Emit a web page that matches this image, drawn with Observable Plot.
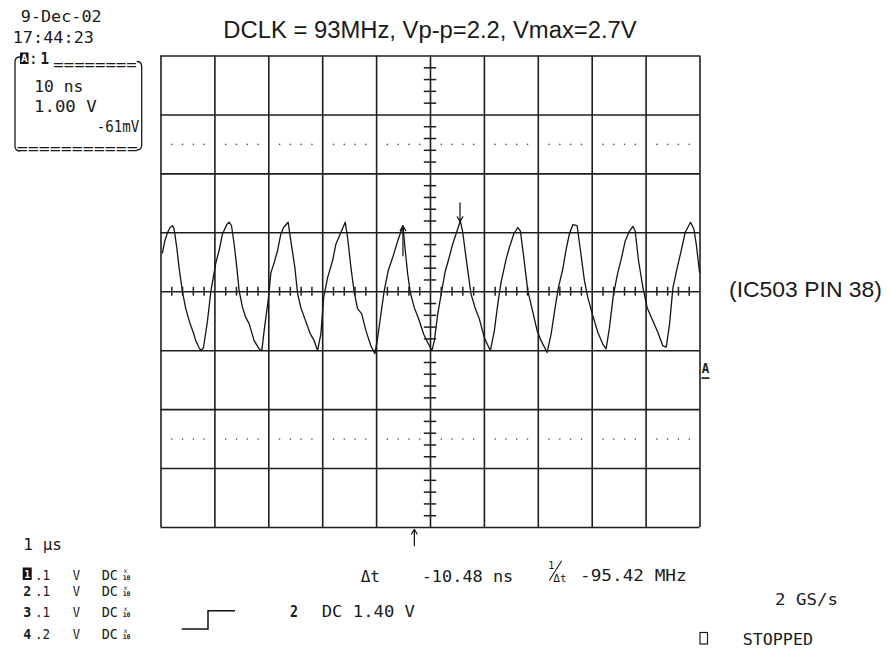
<!DOCTYPE html>
<html>
<head>
<meta charset="utf-8">
<script src="https://cdn.jsdelivr.net/npm/d3@7"></script>
<script src="https://cdn.jsdelivr.net/npm/@observablehq/plot@0.6"></script>
<style>
  html, body { margin: 0; padding: 0; background: #fff; }
  #wrap { position: relative; width: 891px; height: 648px; overflow: hidden; background: #fff; }
  #wrap > svg { position: absolute; left: 0; top: 0; }
  #overlay { position: absolute; left: 0; top: 0; pointer-events: none; }
  .m { font-family: "DejaVu Sans Mono", monospace; fill: #1a1a1a; }
  .s { font-family: "Liberation Sans", Arial, sans-serif; fill: #1a1a1a; }
</style>
</head>
<body>
<div id="wrap"></div>
<script>
// ---- Data ----
// time in ns (10 ns/div), voltage in V (1.00 V/div), screen centre = 0
const timeDivs = [-50, -40, -30, -20, -10, 0, 10, 20, 30, 40, 50];
const voltDivs = [-4, -3, -2, -1, 0, 1, 2, 3, 4];
const dottedLevels = [2.5, -2.5];

const waveT = [-49.73,-49.30,-48.80,-48.32,-47.87,-47.58,-47.07,-46.65,-46.02,-45.40,
  -44.61,-43.97,-43.55,-42.93,-42.62,-42.12,-41.37,-40.76,-39.83,-39.22,
  -38.59,-37.79,-37.36,-36.92,-36.43,-35.93,-35.51,-34.87,-34.26,-33.65,
  -32.72,-31.79,-31.29,-30.86,-30.12,-29.93,-29.62,-29.01,-28.37,-27.76,
  -27.26,-26.41,-25.91,-25.16,-24.66,-24.05,-23.31,-22.32,-21.58,-20.95,
  -20.33,-19.83,-19.09,-18.16,-17.55,-16.75,-15.82,-15.38,-14.76,-14.15,
  -13.52,-12.78,-11.98,-11.05,-10.31,-9.80,-9.19,-8.58,-7.84,-7.02,
  -6.09,-5.11,-4.74,-4.23,-3.75,-3.01,-2.27,-1.26,-0.52,0.28,
  0.71,1.34,2.08,2.69,3.31,4.12,4.74,5.53,5.98,6.59,
  7.52,8.26,9.06,9.99,11.10,11.85,12.48,13.09,14.02,14.63,
  15.45,16.19,16.68,17.31,18.05,18.79,19.78,20.52,21.63,22.38,
  23.12,23.73,24.55,25.16,25.77,26.41,27.20,27.82,28.56,29.19,
  30.12,31.05,31.98,32.59,33.20,33.95,34.76,35.38,36.12,36.92,
  37.55,37.98,38.59,39.41,40.20,41.08,42.19,43.12,43.73,44.35,
  44.98,45.78,46.52,47.26,48.25,48.88,49.30,49.92];
const waveV = [0.66,0.86,1.00,1.09,1.12,1.07,0.75,0.41,0.00,-0.29,
  -0.54,-0.70,-0.83,-0.95,-1.00,-0.95,-0.49,0.00,0.49,0.70,
  0.98,1.14,1.18,1.12,0.81,0.41,0.02,-0.27,-0.44,-0.54,
  -0.83,-0.97,-1.00,-0.66,-0.15,0.02,0.32,0.49,0.70,0.98,
  1.09,1.18,0.86,0.41,-0.03,-0.27,-0.46,-0.71,-0.83,-1.00,
  -0.71,-0.10,0.24,0.53,0.81,0.98,1.18,0.92,0.41,-0.01,
  -0.29,-0.37,-0.66,-0.92,-1.05,-0.78,-0.37,0.02,0.36,0.58,
  0.86,1.12,0.75,0.30,-0.01,-0.27,-0.44,-0.72,-0.86,-1.00,
  -0.83,-0.38,0.01,0.33,0.53,0.81,0.98,1.20,1.01,0.58,
  -0.04,-0.27,-0.46,-0.78,-1.00,-0.66,-0.21,0.16,0.55,0.75,
  0.98,1.09,1.03,0.58,0.02,-0.27,-0.66,-0.83,-1.03,-0.72,
  -0.27,0.07,0.39,0.72,0.98,1.14,1.12,0.70,0.19,-0.10,
  -0.41,-0.69,-0.89,-0.97,-0.61,-0.04,0.33,0.55,0.86,1.03,
  1.11,1.03,0.53,0.07,-0.27,-0.46,-0.69,-0.92,-0.94,-0.55,
  0.07,0.41,0.70,1.01,1.18,1.06,0.81,0.33];

// cursor markers (time ns, from V, to V)
const cursorT = [-5.11, 5.48];
const cursorFrom = [0.61, 1.51];
const cursorTo = [1.12, 1.19];
// trigger position
const triggerT = [-3.0];

// channel settings rows
const chanLabels = ["1", "2", "3", "4"];
const chanScales = [".1", ".1", ".1", ".2"];

// ---- Derived tables ----
const wave = waveT.map((t, i) => ({t, v: waveV[i]})).filter(d => d.v !== undefined);
const minorT = d3.range(-50, 50.001, 2).map(d => +d.toFixed(2)).filter(d => Math.abs(d % 10) > 1e-6);
const minorV = d3.range(-4, 4.001, 0.2).map(d => +d.toFixed(2)).filter(d => Math.abs(d - Math.round(d)) > 1e-6);
const dotGrid = dottedLevels.flatMap(v => minorT.map(t => ({t, v})));
const cursors = cursorT.map((t, i) => ({t, a: cursorFrom[i], b: cursorTo[i]}));
const trig = triggerT.map(t => ({t, a: -4.31, b: -4.03}));

const gridColor = "#1e1e1e";

const chart = Plot.plot({
  width: 891,
  height: 648,
  marginLeft: 160.5,
  marginRight: 191.5,
  marginTop: 55.5,
  marginBottom: 121,
  x: {domain: [-50, 50], axis: null},
  y: {domain: [-4, 4], axis: null},
  style: {background: "white", overflow: "visible"},
  marks: [
    Plot.ruleX(timeDivs, {stroke: gridColor, strokeWidth: 1.6}),
    Plot.ruleY(voltDivs, {stroke: gridColor, strokeWidth: 1.6}),
    Plot.ruleY(minorV, {y: d => d, x1: -1.15, x2: 1.15, stroke: gridColor, strokeWidth: 1.5}),
    Plot.ruleX(minorT, {x: d => d, y1: -0.075, y2: 0.075, stroke: gridColor, strokeWidth: 1.5}),
    Plot.dot(dotGrid, {x: "t", y: "v", r: 0.8, fill: "#555"}),
    Plot.line(wave, {x: "t", y: "v", stroke: "#141414", strokeWidth: 1.3}),
    Plot.arrow(cursors, {x1: "t", y1: "a", x2: "t", y2: "b", stroke: "#111", strokeWidth: 1.2, headLength: 7}),
    Plot.arrow(trig, {x1: "t", y1: "a", x2: "t", y2: "b", stroke: "#111", strokeWidth: 1.2, headLength: 7})
  ]
});
document.getElementById("wrap").appendChild(chart);

// ---- Surrounding oscilloscope annotations ----
const rows = [579.5, 596, 617, 639];
let rowSvg = "";
rows.forEach((y, i) => {
  if (i === 0) {
    rowSvg += `<rect x="22.7" y="${y-12}" width="9" height="12.5" fill="#111"/>
      <text class="m" x="27.2" y="${y-1.8}" font-size="10" font-weight="bold" text-anchor="middle" style="fill:#fff">${chanLabels[i]}</text>`;
  } else {
    rowSvg += `<text class="m" x="23.3" y="${y}" font-size="14" font-weight="bold" textLength="8" lengthAdjust="spacingAndGlyphs">${chanLabels[i]}</text>`;
  }
  rowSvg += `<text class="m" x="35" y="${y}" font-size="14" textLength="15" lengthAdjust="spacingAndGlyphs">${chanScales[i]}</text>
    <text class="m" x="72.7" y="${y}" font-size="14" textLength="7.3" lengthAdjust="spacingAndGlyphs">V</text>
    <text class="m" x="101.7" y="${y}" font-size="14" textLength="16.3" lengthAdjust="spacingAndGlyphs">DC</text>
    <text class="m" font-size="6.5"><tspan x="125.5" y="${y-6.3}" text-anchor="middle">x</tspan><tspan x="122.7" y="${y}" font-weight="bold">10</tspan></text>`;
});

const overlay = `
<svg id="overlay" width="891" height="648" viewBox="0 0 891 648" xmlns="http://www.w3.org/2000/svg">
  <text class="s" x="223.3" y="38.3" font-size="23.5" textLength="413.4" lengthAdjust="spacingAndGlyphs">DCLK = 93MHz, Vp-p=2.2, Vmax=2.7V</text>
  <text class="s" x="729" y="297" font-size="22" textLength="153" lengthAdjust="spacingAndGlyphs">(IC503 PIN 38)</text>

  <text class="m" x="20.7" y="21.7" font-size="16.5" textLength="81" lengthAdjust="spacingAndGlyphs">9-Dec-02</text>
  <text class="m" x="12.7" y="43.3" font-size="16.5" textLength="81.3" lengthAdjust="spacingAndGlyphs">17:44:23</text>

  <rect x="20" y="52.5" width="8.5" height="11.5" fill="#111"/>
  <text class="m" x="24.25" y="62.3" font-size="11" font-weight="bold" text-anchor="middle" style="fill:#fff">A</text>
  <text class="m" x="28.5" y="63.5" font-size="16">:</text>
  <text class="m" x="40.5" y="63.5" font-size="16.5" font-weight="bold" textLength="8.5" lengthAdjust="spacingAndGlyphs">1</text>
  <text class="m" x="53.3" y="69.5" font-size="16" textLength="83.4" lengthAdjust="spacingAndGlyphs">========</text>
  <path d="M20,57 Q15,57 15,62 V146 Q15,151 20,151" fill="none" stroke="#1a1a1a" stroke-width="1.3"/>
  <path d="M136.7,61.5 Q141.7,61.5 141.7,66.5 V145 Q141.7,150 136.7,150" fill="none" stroke="#1a1a1a" stroke-width="1.3"/>
  <text class="m" x="34.3" y="92" font-size="16" textLength="49" lengthAdjust="spacingAndGlyphs">10 ns</text>
  <text class="m" x="34" y="112" font-size="16" textLength="62.7" lengthAdjust="spacingAndGlyphs">1.00 V</text>
  <text class="m" x="96.7" y="132" font-size="16" textLength="42.6" lengthAdjust="spacingAndGlyphs">-61mV</text>
  <text class="m" x="16.7" y="154" font-size="16" textLength="121" lengthAdjust="spacingAndGlyphs">===========</text>

  <text class="m" x="701.7" y="373.3" font-size="14" font-weight="bold" textLength="7.5" lengthAdjust="spacingAndGlyphs">A</text>
  <rect x="701.5" y="377.3" width="8" height="1.6" fill="#111"/>

  <text class="m" x="23.3" y="550" font-size="15" textLength="38.7" lengthAdjust="spacingAndGlyphs">1 µs</text>
  ${rowSvg}

  <path d="M181.7,629 H208 V610.7 H235" fill="none" stroke="#111" stroke-width="1.5"/>
  <text class="m" x="290" y="617" font-size="15" font-weight="bold" textLength="8" lengthAdjust="spacingAndGlyphs">2</text>
  <text class="m" x="321.7" y="617" font-size="15" textLength="93.3" lengthAdjust="spacingAndGlyphs">DC 1.40 V</text>

  <text class="m" x="360.7" y="582" font-size="15" textLength="19.3" lengthAdjust="spacingAndGlyphs">Δt</text>
  <text class="m" x="421.7" y="582" font-size="15" textLength="91.6" lengthAdjust="spacingAndGlyphs">-10.48 ns</text>
  <text class="m" font-size="10"><tspan x="548.3" y="568.5">1</tspan><tspan x="553.3" y="581.7" textLength="13.4" lengthAdjust="spacingAndGlyphs">Δt</tspan></text>
  <line x1="549.3" y1="580.5" x2="561.7" y2="560.7" stroke="#1a1a1a" stroke-width="1.1"/>
  <text class="m" x="580" y="580.7" font-size="15" textLength="106.7" lengthAdjust="spacingAndGlyphs">-95.42 MHz</text>

  <text class="m" x="775" y="605" font-size="15" textLength="63" lengthAdjust="spacingAndGlyphs">2 GS/s</text>
  <rect x="700" y="632.5" width="7.5" height="11.5" fill="none" stroke="#1a1a1a" stroke-width="1.2"/>
  <text class="m" x="742.7" y="645" font-size="15" textLength="70.3" lengthAdjust="spacingAndGlyphs">STOPPED</text>
</svg>`;
document.getElementById("wrap").insertAdjacentHTML("beforeend", overlay);
</script>
</body>
</html>
